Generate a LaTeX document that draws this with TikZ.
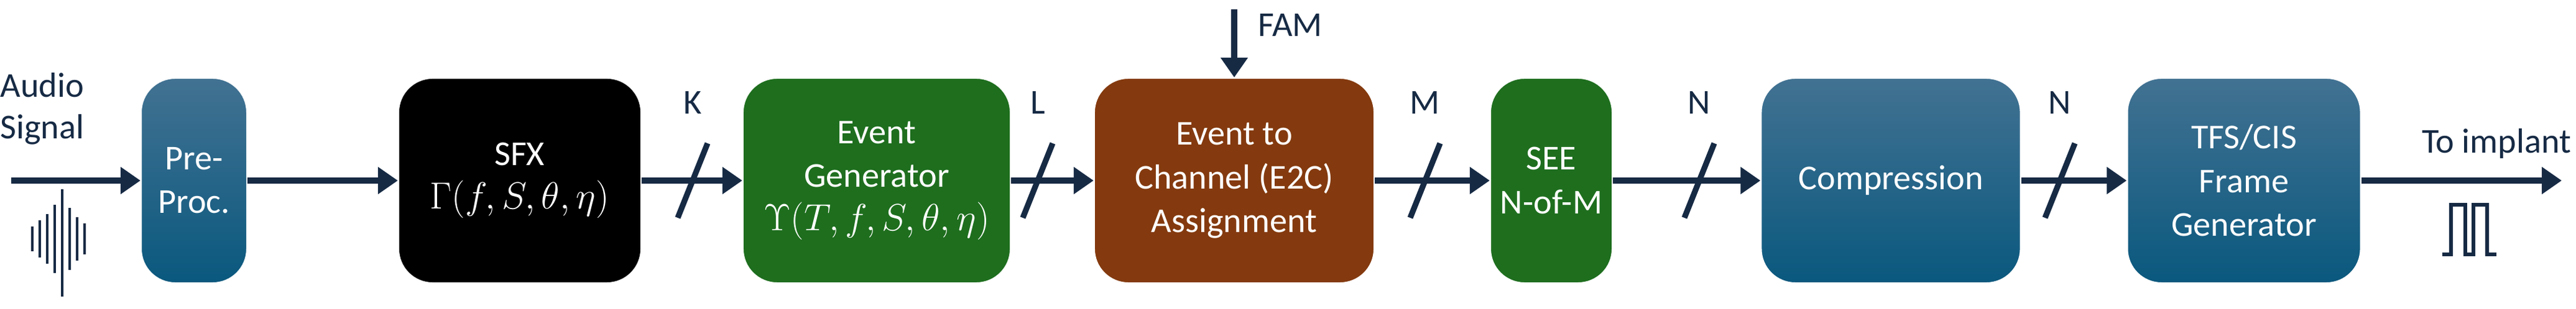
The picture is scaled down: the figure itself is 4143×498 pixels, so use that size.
\documentclass[tikz,border=0pt]{standalone}
\usepackage{fontspec}
\setmainfont{Carlito}
\usetikzlibrary{arrows.meta}
\definecolor{navy}{RGB}{22,42,68}
\definecolor{btop}{RGB}{66,114,146}
\definecolor{bbot}{RGB}{10,88,126}
\definecolor{grn}{RGB}{30,110,30}
\definecolor{brn}{RGB}{132,58,14}
\begin{document}
\begin{tikzpicture}[x=0.01cm,y=-0.01cm,
  box/.style={rounded corners=0.55cm,draw=white,line width=0.6pt,text=white,align=center,
    font=\fontsize{16}{20}\selectfont,minimum height=3.3cm,inner sep=2pt},
  blu/.style={box,top color=btop,bottom color=bbot},
  arr/.style={draw=navy,line width=2.6pt,-{Triangle[length=0.32cm,width=0.42cm]}},
  sl/.style={draw=navy,line width=2.6pt},
  lab/.style={text=navy,font=\fontsize{16}{19}\selectfont,align=left}]
\useasboundingbox (0,0) rectangle (4143,498);
\node[blu,minimum width=1.7cm] (pre) at (312,291) {Pre-\\Proc.};
\node[box,fill=black,minimum width=3.9cm] (sfx) at (836,291) {SFX\\$\Gamma(f,S,\theta,\eta)$};
\node[box,fill=grn,minimum width=4.3cm] (eg) at (1410,291) {Event\\Generator\\$\Upsilon(T,f,S,\theta,\eta)$};
\node[box,fill=brn,minimum width=4.5cm] (e2c) at (1985,291) {Event to\\Channel (E2C)\\Assignment};
\node[box,fill=grn,minimum width=1.96cm] (see) at (2495,291) {SEE\\N-of-M};
\node[blu,minimum width=4.17cm] (comp) at (3041,291) {Compression};
\node[blu,minimum width=3.75cm] (tfs) at (3609,291) {TFS/CIS\\Frame\\Generator};
\coordinate (in) at (18,291);
\coordinate (out) at (4120,291);
\coordinate (fam) at (1985,15);
\node[lab] (audio) at (68,175) {Audio\\Signal};
\node[lab] (famt) at (2075,40) {FAM};
\node[lab] (toimp) at (4015,232) {To implant};
\draw[arr] (in) -- (pre);
\draw[arr] (pre) -- (sfx);
\draw[arr] (sfx) -- (eg);
\draw[arr] (eg) -- (e2c);
\draw[arr] (e2c) -- (see);
\draw[arr] (see) -- (comp);
\draw[arr] (comp) -- (tfs);
\draw[arr] (tfs) -- (out);
\draw[arr] (fam) -- (e2c);
\foreach \x/\t in {1114/K,1669/L,2292/M,2733/N,3313/N}{
  \draw[sl] (\x-24,351) -- (\x+24,231);
  \node[lab] at (\x,165) {\t};
}
% audio waveform
\draw[navy,line width=1pt]
 (52,365)--(52,405) (64,355)--(64,415) (76,345)--(76,425) (88,330)--(88,440)
 (100,305)--(100,478) (112,335)--(112,435) (124,350)--(124,420) (136,360)--(136,410);
% pulses
\draw[navy,line width=1.5pt] (3928,410) -- (3942,410) -- (3942,330) -- (3965,330) -- (3965,410)
 -- (3978,410) -- (3978,330) -- (4000,330) -- (4000,410) -- (4015,410);
\end{tikzpicture}
\end{document}
